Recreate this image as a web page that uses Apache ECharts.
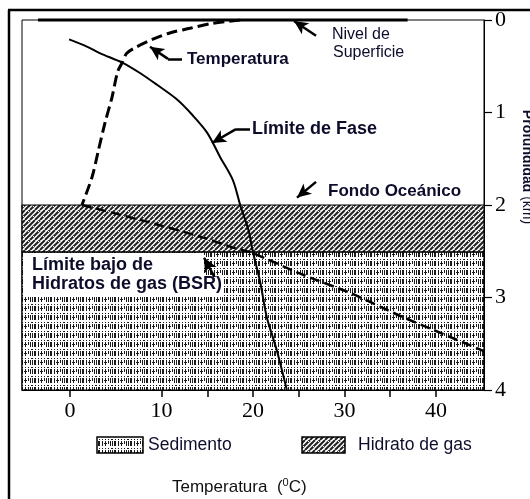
<!DOCTYPE html>
<html>
<head>
<meta charset="utf-8">
<script src="https://cdn.jsdelivr.net/npm/echarts@6/dist/echarts.min.js"></script>
<style>
  html, body { margin: 0; padding: 0; background: #ffffff; }
  #chart { width: 530px; height: 499px; }
</style>
</head>
<body>
<div id="chart"></div>
<script>
// Temperature profile through the water column: [°C, depth km]
const tempWater = [
  [18.6, 0.00], [15.3, 0.04], [13.1, 0.09], [10.9, 0.14], [9.0, 0.21],
  [7.3, 0.29], [6.2, 0.36], [5.7, 0.46], [5.2, 0.56], [4.6, 0.83],
  [3.8, 1.12], [3.1, 1.41], [2.4, 1.70], [1.3, 2.00]
];
// Geothermal gradient below the sea floor: [°C, depth km]
const tempSediment = [
  [1.3, 2.00], [8.4, 2.18], [14.5, 2.35], [17.8, 2.46], [20.0, 2.52],
  [25.1, 2.74], [30.6, 2.95], [36.1, 3.20], [39.7, 3.35], [45.25, 3.58]
];
// Hydrate stability (phase) boundary: [°C, depth km]
const phaseBoundary = [
  [-0.1, 0.21], [1.9, 0.29], [3.3, 0.36], [5.7, 0.46], [7.6, 0.57],
  [9.5, 0.70], [11.7, 0.86], [13.4, 1.03], [15.0, 1.22], [16.4, 1.48],
  [17.8, 1.73], [18.6, 2.00], [19.5, 2.27], [20.0, 2.51], [20.8, 2.84],
  [21.5, 3.21], [22.6, 3.57], [23.7, 4.00]
];
// Sea surface
const surfaceLevel = [[-3.5, 0], [36.9, 0]];
// Layer depths (km)
const seaFloorDepth = 2.0;
const bsrDepth = 2.51;
const baseDepth = 4;
// Axis ticks
const xTickValues = [0, 10, 15, 20, 25, 30, 35, 40];
const xLabelValues = [0, 10, 20, 30, 40];
const depthTickLabels = ['0', '1', '2', '3', '4'];

// Annotation arrows in [°C, km]
const arrowTemperature = { tail: [12.24, 0.42], elbow: [10.71, 0.42], tip: [8.74, 0.29] };
const arrowPhase = { tail: [19.67, 1.18], elbow: [18.14, 1.18], tip: [15.52, 1.33] };
const arrowSurface = { tail: [26.89, 0.17], tip: [24.48, 0.01] };
const arrowSeaFloor = { tail: [26.89, 1.75], tip: [24.81, 1.92] };
const arrowBsr = { tail: [15.96, 2.81], tip: [14.65, 2.57] };

const INK = '#0d0d2b';
const SANS = '"Liberation Sans", Arial, sans-serif';
const SERIF = '"Liberation Serif", "Times New Roman", serif';

// Diagonal hatch used for the gas hydrate layer
function hatchTile() {
  const c = document.createElement('canvas');
  c.width = 10; c.height = 10;
  const g = c.getContext('2d');
  g.fillStyle = '#ffffff'; g.fillRect(0, 0, 10, 10);
  g.strokeStyle = '#222222'; g.lineWidth = 2;
  for (let k = -10; k <= 20; k += 5) {
    g.beginPath(); g.moveTo(k, 10); g.lineTo(k + 10, 0); g.stroke();
  }
  g.fillStyle = '#ffffff';
  g.fillRect(3, 6, 1, 1); g.fillRect(8, 1, 1, 1);
  return c;
}

// Vertical-stroke grid texture used for the sediment
function sedimentTile() {
  const c = document.createElement('canvas');
  c.width = 16; c.height = 9;
  const g = c.getContext('2d');
  g.fillStyle = '#ffffff'; g.fillRect(0, 0, 16, 9);
  g.fillStyle = '#1a1a1a';
  [0, 2, 3, 6, 9, 12, 14].forEach((x) => g.fillRect(x, 0, 1, 5));
  for (let x = 0; x < 16; x += 2) g.fillRect(x, 2, 1, 1);
  for (let x = 0; x < 16; x += 3) g.fillRect(x, 7, 1, 1);
  g.fillStyle = '#ffffff';
  g.fillRect(4, 0, 2, 5); g.fillRect(10, 3, 3, 2);
  return c;
}

const hatch = { image: hatchTile(), repeat: 'repeat' };
const sediment = { image: sedimentTile(), repeat: 'repeat' };

function seg(a, b, withHead) {
  return [
    { coord: a, symbol: 'none' },
    { coord: b, symbol: withHead ? 'arrow' : 'none' }
  ];
}

// Text anchored by its left edge and baseline
function label(text, left, baseline, size, weight) {
  return {
    type: 'text', z: 100, x: left, y: baseline - 0.35 * size,
    style: {
      text: text, fill: INK, font: (weight || 'normal') + ' ' + size + 'px ' + SANS,
      align: 'left', verticalAlign: 'middle'
    }
  };
}

const chart = echarts.init(document.getElementById('chart'), null, { renderer: 'canvas' });

chart.setOption({
  animation: false,
  backgroundColor: '#ffffff',
  grid: {
    left: 22, right: 46, top: 20, bottom: 109,
    show: true, borderColor: '#000000', borderWidth: 1, backgroundColor: 'transparent'
  },
  xAxis: {
    type: 'value', min: -5.25, max: 45.25,
    axisLine: { show: true, onZero: false, lineStyle: { color: '#000', width: 1 } },
    axisTick: { show: true, length: 7, lineStyle: { color: '#000', width: 1.5 }, customValues: xTickValues },
    axisLabel: {
      show: true, customValues: xLabelValues, margin: 10,
      color: '#000', fontFamily: SERIF, fontSize: 22
    },
    splitLine: { show: false }
  },
  yAxis: {
    type: 'value', position: 'right', inverse: true,
    min: 0, max: baseDepth, interval: 1,
    axisLine: { show: true, onZero: false, lineStyle: { color: '#000', width: 1 } },
    axisTick: { show: true, length: 8, lineStyle: { color: '#000', width: 1.2 } },
    axisLabel: {
      margin: 11, color: '#000', fontFamily: SERIF, fontSize: 22,
      formatter: (v) => depthTickLabels[Math.round(v)]
    },
    splitLine: { show: false }
  },
  series: [
    {
      name: 'Capas', type: 'line', data: [], z: 1,
      markArea: {
        silent: true,
        label: { show: false },
        data: [
          [{ yAxis: seaFloorDepth, itemStyle: { color: hatch, borderColor: '#000', borderWidth: 1.2 } },
           { yAxis: bsrDepth }],
          [{ yAxis: bsrDepth, itemStyle: { color: sediment, borderColor: '#000', borderWidth: 1.2 } },
           { yAxis: baseDepth }]
        ]
      }
    },
    {
      name: 'Nivel de Superficie', type: 'line', data: surfaceLevel, z: 5,
      clip: false, symbol: 'none', lineStyle: { color: '#000', width: 3 }
    },
    {
      name: 'Límite de Fase', type: 'line', data: phaseBoundary, z: 4,
      symbol: 'none', smooth: 0.3, lineStyle: { color: '#000', width: 2 }
    },
    {
      name: 'Temperatura', type: 'line', data: tempWater, z: 4,
      symbol: 'none', smooth: 0.3,
      lineStyle: { color: '#000', width: 3, type: [11, 5] }
    },
    {
      name: 'Temperatura (sedimento)', type: 'line', data: tempSediment, z: 4,
      symbol: 'none', smooth: 0.2,
      lineStyle: { color: '#000', width: 2.5, type: [10, 5] }
    },
    {
      name: 'Flechas', type: 'line', data: [], z: 120,
      markLine: {
        silent: true, animation: false,
        symbolSize: [10, 14],
        label: { show: false },
        lineStyle: { color: '#000', width: 2.5, type: 'solid' },
        data: [
          seg(arrowTemperature.tail, arrowTemperature.elbow, false),
          seg(arrowTemperature.elbow, arrowTemperature.tip, true),
          seg(arrowPhase.tail, arrowPhase.elbow, false),
          seg(arrowPhase.elbow, arrowPhase.tip, true),
          seg(arrowSurface.tail, arrowSurface.tip, true),
          seg(arrowSeaFloor.tail, arrowSeaFloor.tip, true),
          seg(arrowBsr.tail, arrowBsr.tip, true)
        ]
      }
    }
  ],
  graphic: {
    elements: [
      // page frame
      { type: 'line', z: 100, shape: { x1: 8, y1: 10, x2: 530, y2: 10 }, style: { stroke: '#000', lineWidth: 2.5 } },
      { type: 'line', z: 100, shape: { x1: 9, y1: 10, x2: 9, y2: 499 }, style: { stroke: '#000', lineWidth: 2.5 } },
      // clear background behind the BSR caption
      { type: 'rect', z: 90, shape: { x: 23, y: 253, width: 180, height: 25 }, style: { fill: '#fff' } },
      { type: 'rect', z: 90, shape: { x: 23, y: 277, width: 201, height: 20 }, style: { fill: '#fff' } },
      label('Nivel de', 332, 40, 16),
      label('Superficie', 333, 58, 16),
      label('Temperatura', 187, 65, 17, 'bold'),
      label('Límite de Fase', 252, 135, 18, 'bold'),
      label('Fondo Oceánico', 328, 197, 17, 'bold'),
      label('Límite bajo de', 32, 271, 18, 'bold'),
      label('Hidratos de gas (BSR)', 32, 290, 18, 'bold'),
      // legend
      { type: 'rect', z: 100, shape: { x: 97, y: 437, width: 46, height: 16 },
        style: { fill: sediment, stroke: '#000', lineWidth: 1.5 } },
      label('Sedimento', 148, 451, 17.5),
      { type: 'rect', z: 100, shape: { x: 302, y: 437, width: 43, height: 16 },
        style: { fill: hatch, stroke: '#000', lineWidth: 1.5 } },
      label('Hidrato de gas', 358, 451, 17.5),
      // x axis title
      {
        type: 'text', z: 100, x: 172, y: 487,
        style: {
          text: 'Temperatura  ({s|0}C)', fill: '#111', font: 'normal 17px ' + SANS,
          align: 'left', verticalAlign: 'middle',
          rich: { s: { fontSize: 11, fontFamily: SANS, fill: '#111', verticalAlign: 'top', lineHeight: 19 } }
        }
      },
      // depth axis title, reading downward
      {
        type: 'text', z: 100, x: 527, y: 167, rotation: -Math.PI / 2,
        style: {
          text: '{b|Profundidad} (km)', fill: INK, font: 'normal 14px ' + SANS,
          align: 'center', verticalAlign: 'middle',
          rich: { b: { fontWeight: 'bold', fontSize: 14, fontFamily: SANS, fill: INK } }
        }
      }
    ]
  }
});
</script>
</body>
</html>
